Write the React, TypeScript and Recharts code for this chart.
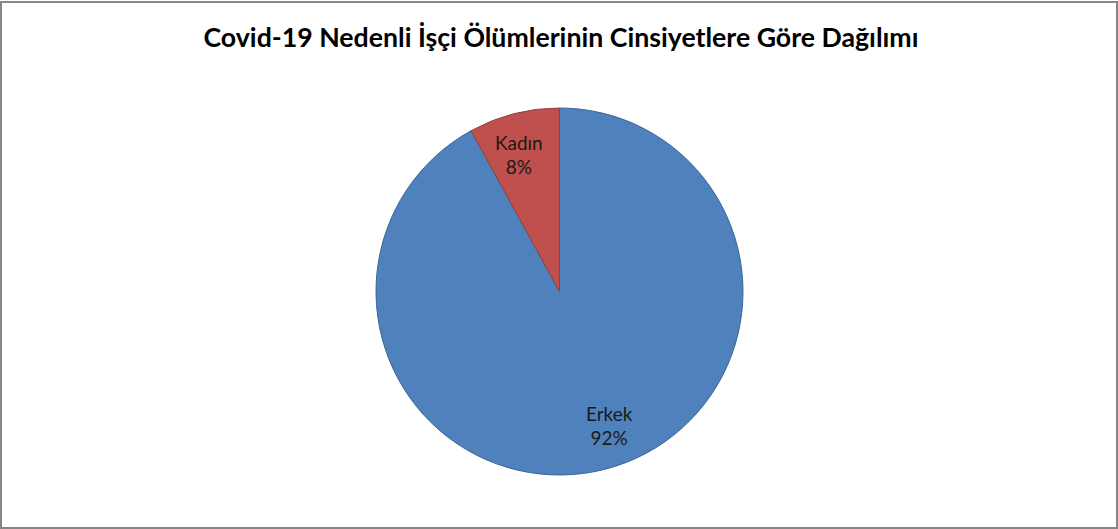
import React from 'react';
import { PieChart, Pie, Cell } from 'recharts';

const categories = ['Erkek', 'Kadın'];
const shares = [92, 8];
const sliceColors = ['#4F81BD', '#C0504D'];
const sliceEdges = ['#3B6593', '#93403D'];
// small horizontal nudges so labels sit like the spreadsheet defaults
const labelNudgeX = [15, -6];

const chartTitle = 'Covid-19 Nedenli İşçi Ölümlerinin Cinsiyetlere Göre Dağılımı';

const data = categories.map((name, i) => ({ name, value: shares[i] }));

const RADIAN = Math.PI / 180;

// two-line "name / percent" label placed inside the slice
const renderLabel = (props: any) => {
  const { cx, cy, midAngle, outerRadius, name, percent, index } = props;
  const r = outerRadius * 0.76;
  const x = cx + r * Math.cos(-midAngle * RADIAN) + labelNudgeX[index];
  const y = cy + r * Math.sin(-midAngle * RADIAN);
  return (
    <text
      x={x}
      y={y}
      textAnchor="middle"
      fill="#1a1a1a"
      fontFamily="Lato, 'Open Sans', sans-serif"
      fontSize={19}
    >
      <tspan x={x} dy={-6}>{name}</tspan>
      <tspan x={x} dy={24}>{`${Math.round(percent * 100)}%`}</tspan>
    </text>
  );
};

export default function App() {
  return (
    <div style={{ position: 'absolute', left: 0, top: 0, width: 1118, height: 529, background: '#fff' }}>
      <div
        style={{
          position: 'absolute',
          left: 0,
          top: 1,
          width: 1118,
          height: 528,
          boxSizing: 'border-box',
          border: '2px solid #868686',
        }}
      />
      <PieChart
        width={1118}
        height={529}
        margin={{ top: 0, right: 0, bottom: 0, left: 0 }}
        style={{ position: 'absolute', left: 0, top: 0 }}
      >
        <text
          x={561}
          y={47}
          textAnchor="middle"
          fontFamily="Lato, 'Open Sans', sans-serif"
          fontWeight="bold"
          fontSize={26.7}
          fill="#000"
        >
          {chartTitle}
        </text>
        <Pie
          data={data}
          dataKey="value"
          nameKey="name"
          cx={559.5}
          cy={291.5}
          outerRadius={183.5}
          startAngle={90}
          endAngle={-270}
          label={renderLabel}
          labelLine={false}
          isAnimationActive={false}
        >
          {data.map((d, i) => (
            <Cell key={d.name} fill={sliceColors[i]} stroke={sliceEdges[i]} strokeWidth={1} />
          ))}
        </Pie>
      </PieChart>
    </div>
  );
}
